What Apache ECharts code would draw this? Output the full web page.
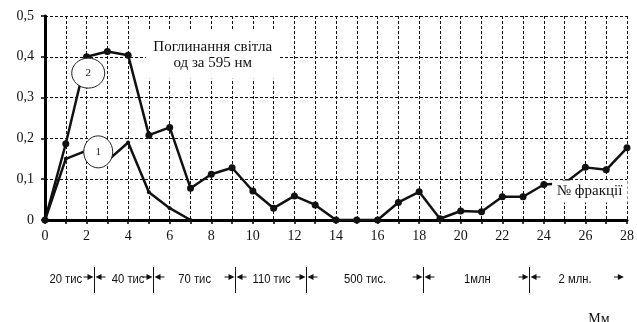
<!DOCTYPE html>
<html>
<head>
<meta charset="utf-8">
<script src="https://cdn.jsdelivr.net/npm/echarts@6/dist/echarts.min.js"></script>
<style>
  html, body { margin: 0; padding: 0; background: #fff; }
  #chart { width: 637px; height: 322px; }
</style>
</head>
<body>
<div id="chart"></div>
<script>
// Fraction numbers on the horizontal axis
const fractions = [0, 1, 2, 3, 4, 5, 6, 7, 8, 9, 10, 11, 12, 13, 14, 15, 16, 17, 18, 19, 20, 21, 22, 23, 24, 25, 26, 27, 28];

// Light absorption (units at 595 nm), curve 2 — all fractions
const absorption2 = [0, 0.187, 0.4, 0.413, 0.404, 0.208, 0.227, 0.078, 0.112, 0.128, 0.071, 0.029, 0.059, 0.037,
  0, 0, 0, 0.043, 0.069, 0.003, 0.022, 0.02, 0.057, 0.057, 0.087, 0.09, 0.129, 0.123, 0.177];

// Curve 1 — fractions 0..7
const absorption1 = [0, 0.15, 0.17, 0.145, 0.19, 0.068, 0.029, 0];

// Y tick labels (comma decimal)
const yTicks = ['0', '0,1', '0,2', '0,3', '0,4', '0,5'];

// Molecular mass ranges below the axis: label and boundaries in fraction units
const rangeLabels = ['20 тис', '40 тис', '70 тис', '110 тис', '500 тис.', '1млн', '2 млн.'];
const rangeLabelCenters = [1.0, 4.0, 7.2, 10.9, 15.4, 20.8, 25.5];
const rangeBounds = [2.36, 5.19, 9.13, 12.55, 18.17, 23.27];
const rangeEnd = 27.85;

const serif = '"Liberation Serif", "Times New Roman", serif';
const sans = '"Liberation Sans", Arial, sans-serif';

const chart = echarts.init(document.getElementById('chart'), null, { renderer: 'canvas' });

const pairs = (ys) => ys.map((v, i) => [fractions[i], v]);

chart.setOption({
  animation: false,
  backgroundColor: '#fff',
  grid: { left: 45, right: 10, top: 16, bottom: 102, containLabel: false },
  xAxis: {
    type: 'value', min: 0, max: 28, interval: 1,
    axisLine: { show: true, onZero: false, lineStyle: { color: '#000', width: 3 } },
    axisTick: { show: true, length: 4, lineStyle: { color: '#000', width: 1.5 } },
    axisLabel: {
      show: true, margin: 9, color: '#111', fontFamily: serif, fontSize: 14,
      hideOverlap: false, showMinLabel: true, showMaxLabel: true,
      formatter: (v) => (v % 2 === 0 ? String(v) : '')
    },
    splitLine: { show: true, lineStyle: { color: '#111', width: 1, type: [3, 2] } }
  },
  yAxis: {
    type: 'value', min: 0, max: 0.5, interval: 0.1,
    axisLine: { show: true, lineStyle: { color: '#000', width: 3 } },
    axisTick: { show: true, length: 4, lineStyle: { color: '#000', width: 1.5 } },
    axisLabel: {
      margin: 11, color: '#111', fontFamily: serif, fontSize: 14,
      formatter: (v) => yTicks[Math.round(v * 10)]
    },
    splitLine: { show: true, lineStyle: { color: '#111', width: 1, type: [3, 2] } }
  },
  series: [
    {
      name: '2', type: 'line', data: pairs(absorption2), z: 3,
      symbol: 'circle', symbolSize: 7, showAllSymbol: true,
      itemStyle: { color: '#111' },
      lineStyle: { color: '#111', width: 2.5 }
    },
    {
      name: '1', type: 'line', data: pairs(absorption1), z: 3,
      symbol: 'circle', symbolSize: 4, showAllSymbol: true,
      itemStyle: { color: '#111' },
      lineStyle: { color: '#111', width: 2.5 }
    }
  ]
});

// Annotations placed in data coordinates
const px = (x, y) => chart.convertToPixel({ gridIndex: 0 }, [x, y]);
const g = [];

// Caption box over the grid
const cap = px(8.07, 0.405);
g.push({ type: 'rect', z: 10, shape: { x: cap[0] - 67, y: cap[1] - 24, width: 133, height: 48 }, style: { fill: '#fff' } });
g.push({ type: 'text', z: 11, x: cap[0], y: cap[1] - 8, style: { text: 'Поглинання світла', font: '15px ' + serif, fill: '#111', align: 'center', verticalAlign: 'middle' } });
g.push({ type: 'text', z: 11, x: cap[0], y: cap[1] + 8, style: { text: 'од за 595 нм', font: '15px ' + serif, fill: '#111', align: 'center', verticalAlign: 'middle' } });

// Curve number ellipses
[['2', 2.08, 0.36, 16.5, 15], ['1', 2.56, 0.167, 14.5, 16]].forEach(([t, x, y, rx, ry]) => {
  const p = px(x, y);
  g.push({ type: 'ellipse', z: 12, shape: { cx: p[0], cy: p[1], rx: rx, ry: ry }, style: { fill: '#fff', stroke: '#222', lineWidth: 1 } });
  g.push({ type: 'text', z: 13, x: p[0], y: p[1], style: { text: t, font: '11px ' + serif, fill: '#222', align: 'center', verticalAlign: 'middle' } });
});

// Fraction-number caption (covers the curve beneath it)
const fr = px(26.2, 0.071);
g.push({ type: 'rect', z: 12, shape: { x: fr[0] - 37.5, y: fr[1] - 10.5, width: 75.5, height: 22 }, style: { fill: '#fff' } });
g.push({ type: 'text', z: 13, x: fr[0], y: fr[1] + 0.5, style: { text: '№ фракції', font: '15px ' + serif, fill: '#111', align: 'center', verticalAlign: 'middle' } });

// Mass ranges row
const rowY = 280, arrowY = 277;
rangeLabels.forEach((t, i) => {
  const p = px(rangeLabelCenters[i], 0);
  g.push({ type: 'text', z: 5, x: p[0], y: rowY, scaleX: 0.9, style: { text: t, font: '12.5px ' + sans, fill: '#111', align: 'center', verticalAlign: 'middle' } });
});
const arrowRight = (tip) => {
  g.push({ type: 'line', z: 5, shape: { x1: tip - 10, y1: arrowY, x2: tip - 4, y2: arrowY }, style: { stroke: '#111', lineWidth: 1 } });
  g.push({ type: 'polygon', z: 5, shape: { points: [[tip, arrowY], [tip - 6, arrowY - 3], [tip - 6, arrowY + 3]] }, style: { fill: '#111' } });
};
const arrowLeft = (tip) => {
  g.push({ type: 'line', z: 5, shape: { x1: tip + 4, y1: arrowY, x2: tip + 10, y2: arrowY }, style: { stroke: '#111', lineWidth: 1 } });
  g.push({ type: 'polygon', z: 5, shape: { points: [[tip, arrowY], [tip + 6, arrowY - 3], [tip + 6, arrowY + 3]] }, style: { fill: '#111' } });
};
rangeBounds.forEach((b) => {
  const x = Math.round(px(b, 0)[0]) + 0.5;
  g.push({ type: 'line', z: 5, shape: { x1: x, y1: 267, x2: x, y2: 293 }, style: { stroke: '#111', lineWidth: 1 } });
  arrowRight(x - 1);
  arrowLeft(x + 1);
});
arrowRight(px(rangeEnd, 0)[0]);

// Mass unit caption
g.push({ type: 'text', z: 5, x: 599, y: 326, style: { text: 'Мм', font: '14px ' + serif, fill: '#111', align: 'center', verticalAlign: 'bottom' } });

chart.setOption({ graphic: g });
</script>
</body>
</html>
